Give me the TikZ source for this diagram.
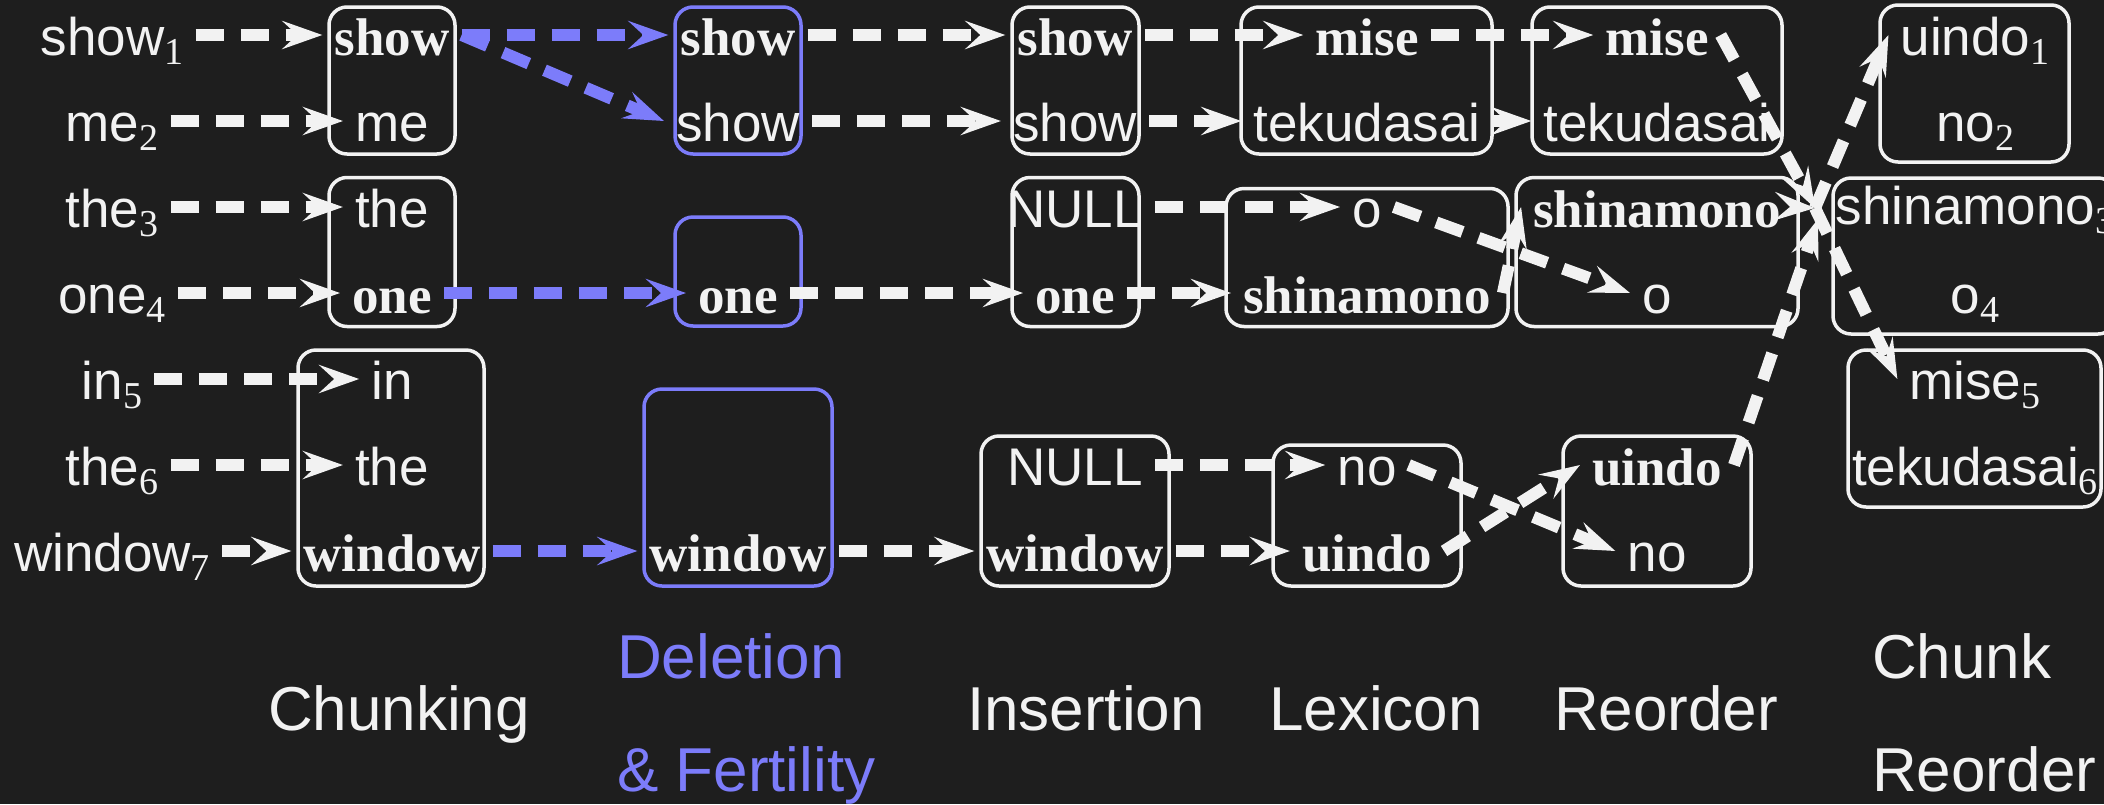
\documentclass[tikz,border=0pt]{standalone}
\usepackage{fontspec}
\setmainfont{Liberation Serif}
\setsansfont{Liberation Sans}
\usetikzlibrary{arrows.meta,calc}
\definecolor{bg}{RGB}{30,30,30}
\definecolor{fg}{RGB}{242,242,242}
\definecolor{del}{RGB}{124,124,250}
% position index of a word, set as a lowered serif digit
\newcommand\sbx[1]{\raisebox{-9pt}{\rmfamily\mdseries\fontsize{38}{40}\selectfont #1}}

\tikzset{
  wd/.style={anchor=base, inner xsep=12pt, inner ysep=0pt, text height=40pt,
    text depth=0pt, text=fg, font=\sffamily\fontsize{53}{60}\selectfont},
  bw/.style={wd, font=\rmfamily\bfseries\fontsize{53}{60}\selectfont},
  chunkbox/.style={draw=fg, line width=3.5pt, rounded corners=18pt, inner sep=0pt},
  delbox/.style={chunkbox, draw=del},
  flow/.style={draw=fg, line width=12pt, dash pattern=on 28pt off 17pt,
    -{Stealth[length=40pt,width=28pt,inset=15pt]}},
  delflow/.style={flow, draw=del},
  stage/.style={anchor=base, inner sep=0pt, text=fg, font=\sffamily\fontsize{62}{70}\selectfont},
}

\begin{document}
\begin{tikzpicture}[x=1pt,y=-1pt]
\fill[bg] (0,0) rectangle (2104,804);
\useasboundingbox (0,0) rectangle (2104,804);

% ---- chunk boxes ----
\node[chunkbox, minimum width=126pt, minimum height=147pt] (B1) at (392,80.5) {};
\node[chunkbox, minimum width=126pt, minimum height=149pt] (B2) at (392,252) {};
\node[chunkbox, minimum width=186pt, minimum height=236pt] (B3) at (391,468) {};

\node[delbox, minimum width=126pt, minimum height=147pt] (D1) at (738,80.5) {};
\node[delbox, minimum width=126pt, minimum height=109pt] (D2) at (738,271.5) {};
\node[delbox, minimum width=188pt, minimum height=197pt] (D3) at (738,487.5) {};

\node[chunkbox, minimum width=127pt, minimum height=147pt] (I1) at (1075.5,80.5) {};
\node[chunkbox, minimum width=127pt, minimum height=149pt] (I2) at (1075.5,252) {};
\node[chunkbox, minimum width=188pt, minimum height=150pt] (I3) at (1075,511) {};

\node[chunkbox, minimum width=251pt, minimum height=147pt] (L1) at (1366.5,80.5) {};
\node[chunkbox, minimum width=282pt, minimum height=138pt] (L2) at (1367,257.5) {};
\node[chunkbox, minimum width=188pt, minimum height=141pt] (L3) at (1367,515.5) {};

\node[chunkbox, minimum width=250pt, minimum height=147pt] (R1) at (1657,80.5) {};
\node[chunkbox, minimum width=282pt, minimum height=149pt] (R2) at (1657,252) {};
\node[chunkbox, minimum width=188pt, minimum height=150pt] (R3) at (1657,511) {};

\node[chunkbox, minimum width=189pt, minimum height=157pt] (K1) at (1974.5,83.5) {};
\node[chunkbox, minimum width=283pt, minimum height=156pt] (K2) at (1974.5,256) {};
\node[chunkbox, minimum width=253pt, minimum height=157pt] (K3) at (1974.5,428.5) {};

% ---- source sentence ----
\node[wd] (s1) at (112,55)  {show\sbx{1}};
\node[wd] (s2) at (112,141) {me\sbx{2}};
\node[wd] (s3) at (112,227) {the\sbx{3}};
\node[wd] (s4) at (112,313) {one\sbx{4}};
\node[wd] (s5) at (112,399) {in\sbx{5}};
\node[wd] (s6) at (112,485) {the\sbx{6}};
\node[wd] (s7) at (112,571) {window\sbx{7}};

% ---- chunking ----
\node[bw] (c1a) at (392,55)  {show};
\node[wd] (c1b) at (392,141) {me};
\node[wd] (c2a) at (392,227) {the};
\node[bw] (c2b) at (392,313) {one};
\node[wd] (c3a) at (392,399) {in};
\node[wd] (c3b) at (392,485) {the};
\node[bw] (c3c) at (392,571) {window};

% ---- deletion & fertility ----
\node[bw] (d1a) at (738,55)  {show};
\node[wd] (d1b) at (738,141) {show};
\node[bw] (d2b) at (738,313) {one};
\node[bw] (d3c) at (738,571) {window};

% ---- insertion ----
\node[bw] (i1a) at (1075,55)  {show};
\node[wd] (i1b) at (1075,141) {show};
\node[wd] (i2a) at (1075,227) {NULL};
\node[bw] (i2b) at (1075,313) {one};
\node[wd] (i3a) at (1075,485) {NULL};
\node[bw] (i3b) at (1075,571) {window};

% ---- lexicon ----
\node[bw] (l1a) at (1367,55)  {mise};
\node[wd] (l1b) at (1367,141) {tekudasai};
\node[wd] (l2a) at (1367,227) {o};
\node[bw] (l2b) at (1367,313) {shinamono};
\node[wd] (l3a) at (1367,485) {no};
\node[bw] (l3b) at (1367,571) {uindo};

% ---- reorder ----
\node[bw] (r1a) at (1657,55)  {mise};
\node[wd] (r1b) at (1657,141) {tekudasai};
\node[bw] (r2a) at (1657,227) {shinamono};
\node[wd] (r2b) at (1657,313) {o};
\node[bw] (r3a) at (1657,485) {uindo};
\node[wd] (r3b) at (1657,571) {no};

% ---- chunk reorder ----
\node[wd] (k1a) at (1975,55)  {uindo\sbx{1}};
\node[wd] (k1b) at (1975,141) {no\sbx{2}};
\node[wd] (k2a) at (1975,224) {shinamono\sbx{3}};
\node[wd] (k2b) at (1975,313) {o\sbx{4}};
\node[wd] (k3a) at (1975,399) {mise\sbx{5}};
\node[wd] (k3b) at (1975,485) {tekudasai\sbx{6}};

% meeting point of the chunk moves
\coordinate (hub)  at (1815,208);
\coordinate (hubl) at (1818,219);

% ---- stage captions ----
\node[stage] (tchunk) at (399,730) {Chunking};
\node[stage, text=del, anchor=base west] (tdel)  at (617,678) {Deletion};
\node[stage, text=del, anchor=base west] (tfert) at (617,791) {\& Fertility};
\node[stage] (tins) at (1086,730) {Insertion};
\node[stage] (tlex) at (1376,730) {Lexicon};
\node[stage] (treo) at (1666,730) {Reorder};
\node[stage, anchor=base west] (tck)  at (1872,678) {Chunk};
\node[stage, anchor=base west] (tckr) at (1872,791) {Reorder};

% ---- connectors ----
\foreach \a/\b in {s1/c1a, s2/c1b, s3/c2a, s4/c2b, s5/c3a, s6/c3b, s7/c3c}
  \draw[flow] (\a.east) -- (\b.west);
\foreach \a/\b in {c1a/d1a, c1a/d1b, c2b/d2b, c3c/d3c}
  \draw[delflow] (\a.east) -- (\b.west);
\foreach \a/\b in {d1a/i1a, d1b/i1b, d2b/i2b, d3c/i3b,
                   i1a/l1a, i1b/l1b, i2a/l2a, i2b/l2b, i3a/l3a, i3b/l3b,
                   l1a/r1a, l1b/r1b, l2a/r2b, l2b/r2a, l3a/r3b, l3b/r3a}
  \draw[flow] (\a.east) -- (\b.west);
\draw[flow] (r1a.east) -- (hub);
\draw[flow] (r2a.east) -- (hub);
\draw[flow] (r3a.east) -- (hubl);
\draw[flow] (hub) -- (k1a.west);
\draw[flow] (hub) -- (k3a.west);
\end{tikzpicture}
\end{document}
